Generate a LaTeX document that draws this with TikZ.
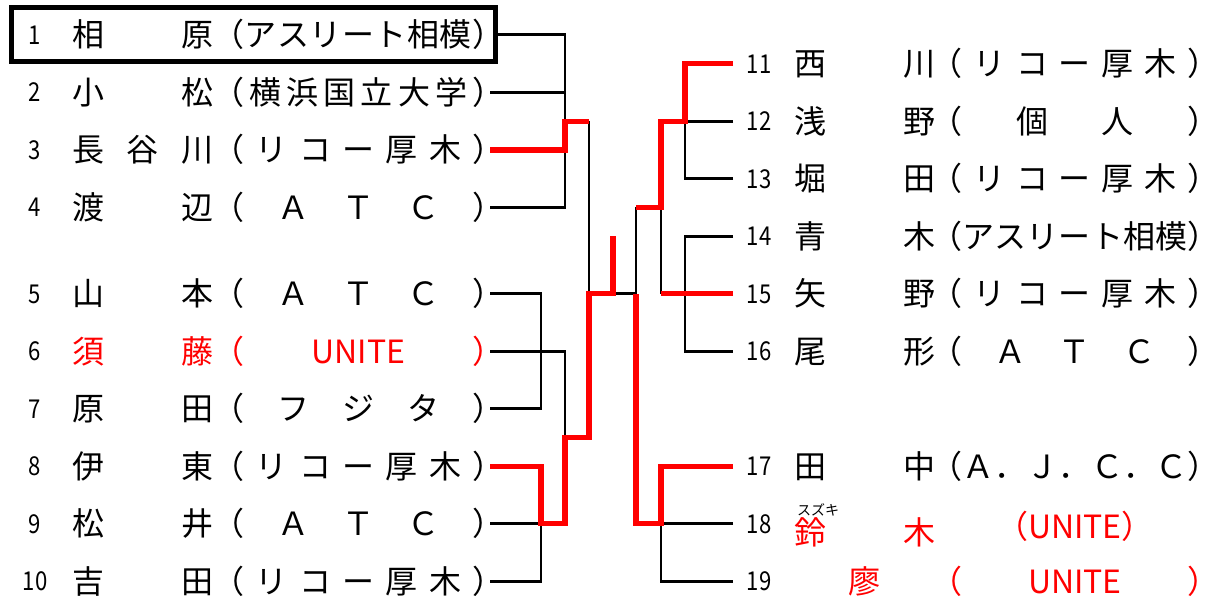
\documentclass[tikz,border=0pt]{standalone}
\usepackage{fontspec}
\setmainfont{Noto Sans CJK JP}
\newfontfamily\numfont[FakeStretch=0.85]{Noto Sans CJK JP}
\usepackage{tikz}
\tikzstyle{seedno}=[font=\numfont\fontsize{13pt}{13pt}\selectfont, inner sep=0pt, anchor=base, yshift=-4.75pt]
\tikzstyle{entry}=[font=\fontsize{16pt}{16pt}\selectfont, inner sep=0pt, anchor=base west, yshift=-6pt]
\tikzstyle{loseline}=[line width=1.3pt, black]
\tikzstyle{winline}=[line width=2.6pt, red]
\tikzstyle{winbox}=[draw, line width=2.5pt, inner sep=0pt, minimum width=242pt, minimum height=27.25pt]
\newcommand{\spreadit}[1]{\spreadfirst#1\relax}
\def\spreadfirst#1{#1\spreadrest}
\def\spreadrest#1{\ifx\relax#1\else\hfill#1\expandafter\spreadrest\fi}
\newcommand{\seibox}[1]{\makebox[70.5pt]{\expandafter\spreadit\expandafter{#1}}}
\newcommand{\clubbox}[2][146pt]{\makebox[#1]{\expandafter\spreadit\expandafter{#2}}}

\begin{document}
\begin{tikzpicture}[x=0.5pt,y=-0.5pt]
	\useasboundingbox (0,0) rectangle (1219,598);
	% left half
	\foreach \n/\r/\sei/\club/\col in {1/0/相原/（アスリート相模）/black, 2/1/小松/（横浜国立大学）/black, 3/2/長谷川/（リコー厚木）/black, 4/3/渡辺/（ＡＴＣ）/black, 5/4.5/山本/（ＡＴＣ）/black, 6/5.5/須藤/（{UNITE}）/red, 7/6.5/原田/（フジタ）/black, 8/7.5/伊東/（リコー厚木）/black, 9/8.5/松井/（ＡＴＣ）/black, 10/9.5/吉田/（リコー厚木）/black}{
		\node[seedno] (n\n) at (35,35+57.5*\r) {\n};
		\node[entry,text=\col] (s\n) at (72,35+57.5*\r) {\seibox{\sei}};
		\node[entry,text=\col] (c\n) at (212,35+57.5*\r) {\clubbox{\club}};
		\coordinate (l\n) at (490,35+57.5*\r);
	}
	\node[winbox] (box1) at (253,34.75) {};
	% right half
	\foreach \n/\r/\sei/\club in {11/0.5/西川/（リコー厚木）, 12/1.5/浅野/（個人）, 13/2.5/堀田/（リコー厚木）, 14/3.5/青木/（アスリート相模）, 15/4.5/矢野/（リコー厚木）, 16/5.5/尾形/（ＡＴＣ）, 17/7.5/田中/（Ａ．Ｊ．Ｃ．Ｃ）}{
		\node[seedno] (n\n) at (759,35+57.5*\r) {\n};
		\node[entry] (s\n) at (794,35+57.5*\r) {\seibox{\sei}};
		\node[entry] (c\n) at (930,35+57.5*\r) {\clubbox[144.5pt]{\club}};
		\coordinate (r\n) at (733,35+57.5*\r);
	}
	\node[seedno] (n18) at (759,523.75) {18};
	\node[entry,text=red,yshift=-4.5pt] (s18) at (794,523.75) {\seibox{鈴木}};
	\node[font=\fontsize{7pt}{7pt}\selectfont, inner sep=0pt] (kana18) at (818,510) {スズキ};
	\node[entry,text=red,yshift=-1.5pt] (c18) at (930,523.75) {\makebox[144.5pt]{（UNITE）}};
	\coordinate (r18) at (733,523.75);
	\node[seedno] (n19) at (759,581.25) {19};
	\node[entry,text=red] (s19) at (794,581.25) {\seibox{廖}};
	\node[entry,text=red] (c19) at (930,581.25) {\clubbox[144.5pt]{（{UNITE}）}};
	\coordinate (r19) at (733,581.25);
	% bracket corners
	\coordinate (ja) at (541,0);
	\coordinate (t1) at (565,121.25);
	\coordinate (t2) at (565,437.75);
	\coordinate (f0) at (589,293.75);
	\coordinate (f1) at (613,293.75);
	\coordinate (champ) at (613,236.25);
	\coordinate (f2) at (636,293.75);
	\coordinate (u1) at (685,121.25);
	\coordinate (u2) at (661,207.5);
	\coordinate (u3) at (661,523.75);
	\draw[loseline] (box1.east) -| (l4 -| t1) -- (l4);
	\draw[loseline] (l2) -- (l2 -| t1);
	\draw[loseline] (t1 -| f0) -- (f0);
	\draw[loseline] (l5) -| (l7 -| ja) -- (l7);
	\draw[loseline] (l6) -| (t2);
	\draw[loseline] (l9) -- (l9 -| ja) -- (l10 -| ja) -- (l10);
	\draw[loseline] (f1) -- (f2);
	\draw[loseline] (u2 -| f2) -- (f2);
	\draw[loseline] (u2) -- (u2 |- f2);
	\draw[loseline] (r12) -- (r12 -| u1);
	\draw[loseline] (r13) -| (u1);
	\draw[loseline] (r14) -| (r16 -| u1) -- (r16);
	\draw[loseline] (r18) -- (u3) -- (u3 |- r19) -- (r19);
	\draw[winline] (l3) -| (t1) -- (t1 -| f0);
	\draw[winline] (l8) -| (l9 -| ja) -- (l9 -| t2) -- (t2) -- (t2 -| f0) -- (f0) -- (f1) -- (champ);
	\draw[winline] (r11) -| (u1) -- (u1 -| u2) -- (u2) -- (u2 -| f2);
	\draw[winline] (r15) -- (r15 -| u2);
	\draw[winline] (r17) -| (u3) -- (u3 -| f2) -- (f2);
\end{tikzpicture}
\end{document}
